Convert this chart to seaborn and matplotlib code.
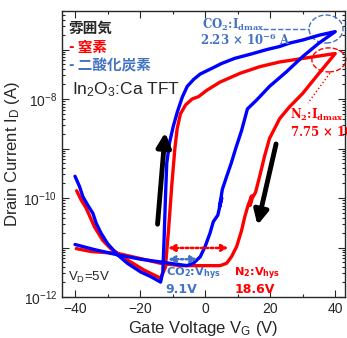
import numpy as np
import pandas as pd
import matplotlib
matplotlib.use('Agg')
import matplotlib.pyplot as plt
import matplotlib.ticker as mticker
from matplotlib.patches import Ellipse
import seaborn as sns

# Transfer curves (forward sweep -40 -> 40 V, then reverse 40 -> -40 V)
co2_vg = [-40.0, -38.6, -37.6, -36.1, -34.5, -33.5, -32.0, -30.0, -26.9, -23.9, -19.8, -16.8, -13.7,
          -13.0, -12.6, -12.2, -11.8, -11.0, -9.8, -8.5, -7.0, -5.5, -3.5, -1.5, 2.5, 5.0, 9.0, 14.7,
          19.0, 22.9, 26.0, 29.9, 35.1, 40.0,
          35.0, 30.0, 24.9, 19.8, 15.8, 13.0, 11.2, 9.5, 8.0, 6.6, 5.3, 4.4, 5.1, 3.9, 2.5, 1.5, 0.0,
          -1.5, -3.6, -5.6, -13.7, -19.8, -26.9, -34.1, -40.0]
co2_id = [2.75e-10, 1.7e-10, 1.07e-10, 7.2e-11, 4.9e-11, 3.1e-11, 1.95e-11, 1.2e-11, 7.1e-12, 4.8e-12,
          3.2e-12, 2.6e-12, 2.0e-12,
          3.2e-12, 1.6e-11, 1.0e-10, 5.0e-10, 1.26e-9, 2.8e-9, 5.6e-9, 1.1e-8, 1.8e-8, 2.5e-8, 3.2e-8,
          4.3e-8, 5.2e-8, 6.6e-8, 8.3e-8, 1.0e-7, 1.15e-7, 1.35e-7, 1.55e-7, 1.95e-7, 2.3e-7,
          1.35e-7, 7.2e-8, 3.5e-8, 1.8e-8, 9.5e-9, 6.3e-9, 2.3e-9, 1.05e-9, 5.0e-10, 2.7e-10, 1.5e-10,
          6.6e-11, 1.0e-10, 4.5e-11, 3.3e-11, 1.95e-11, 1.05e-11, 6.5e-12, 4.8e-12, 4.3e-12, 5.1e-12,
          5.8e-12, 7.1e-12, 9.1e-12, 1.15e-11]

n2_vg = [-39.5, -38.1, -36.6, -34.0, -31.5, -29.0, -23.9, -18.8, -13.7,
         -12.2, -11.2, -10.2, -9.3, -8.6, -7.6, -6.0, -4.0, -2.0, 0.5, 4.6, 10.7, 16.8, 22.9, 30.0,
         35.0, 40.0,
         34.1, 30.0, 25.9, 22.9, 19.8, 18.3, 16.8, 15.5, 14.5, 13.8, 14.3, 13.2, 12.2, 11.2, 9.7, 8.1,
         6.6, 4.6, -7.6, -13.7, -20.0, -26.9, -35.1, -39.6]
n2_id = [1.4e-10, 9.1e-11, 6.3e-11, 2.6e-11, 1.4e-11, 9.5e-12, 5.6e-12, 3.5e-12, 2.4e-12,
         4.0e-12, 2.5e-11, 2.0e-10, 1.0e-9, 2.5e-9, 5.0e-9, 7.6e-9, 1.0e-8, 1.12e-8, 1.5e-8, 2.2e-8,
         3.3e-8, 4.5e-8, 5.6e-8, 6.6e-8, 7.4e-8, 8.3e-8,
         2.8e-8, 1.3e-8, 6.9e-9, 4.0e-9, 1.6e-9, 7.1e-10, 2.8e-10, 1.3e-10, 1.0e-10, 7.1e-11, 1.1e-10,
         7.1e-11, 4.2e-11, 2.2e-11, 1.05e-11, 6.5e-12, 4.8e-12, 4.3e-12, 4.3e-12, 4.8e-12, 6.0e-12,
         7.6e-12, 8.3e-12, 9.5e-12]

vhys = {'N2': 18.6, 'CO2': 9.1}
idmax_text = {'N2': '7.75 × 10$^{-7}$ A', 'CO2': '2.23 × 10$^{-6}$ A'}

df = pd.concat([
    pd.DataFrame({'VG': n2_vg, 'ID': n2_id, 'gas': 'N2'}),
    pd.DataFrame({'VG': co2_vg, 'ID': co2_id, 'gas': 'CO2'}),
])

sns.set_style('ticks')
plt.rcParams['font.family'] = ['Liberation Sans', 'Noto Sans CJK JP', 'DejaVu Sans']
plt.rcParams['mathtext.default'] = 'regular'

fig = plt.figure(figsize=(3.47, 3.38), dpi=100)
ax = fig.add_axes([62 / 347, 1 - 297 / 338, 283 / 347, 286 / 338])

sns.lineplot(data=df, x='VG', y='ID', hue='gas', hue_order=['N2', 'CO2'],
             palette={'N2': '#ff0000', 'CO2': '#0000ff'}, sort=False, estimator=None,
             lw=2.4, legend=False, ax=ax)

ax.set_yscale('log')
ax.set_xlim(-44, 43)
ax.set_ylim(1e-12, 6e-7)
ax.set_xticks([-40, -20, 0, 20, 40])
ax.xaxis.set_minor_locator(mticker.MultipleLocator(10))
ax.set_yticks([1e-12, 1e-11, 1e-10, 1e-9, 1e-8, 1e-7])
ax.set_yticklabels(['$10^{-12}$', '', '$10^{-10}$', '', '$10^{-8}$', ''])
ax.yaxis.set_minor_locator(mticker.LogLocator(base=10, subs=np.arange(2, 10), numticks=20))
ax.yaxis.set_minor_formatter(mticker.NullFormatter())
ax.tick_params(which='both', direction='in', top=True, right=True, width=0.8, labelsize=10)
ax.tick_params(which='major', length=5)
ax.tick_params(which='minor', length=2.5)
for s in ax.spines.values():
    s.set_linewidth(1.0)

ax.set_xlabel('Gate Voltage V$_G$ (V)', fontsize=12, labelpad=2)
ax.set_ylabel('Drain Current I$_D$ (A)', fontsize=12, labelpad=1)

# legend-like text
jp = ['Noto Sans CJK JP', 'DejaVu Sans']
ax.text(0.025, 0.94, '雰囲気', transform=ax.transAxes, family=jp, weight='bold', fontsize=10.5, va='center')
ax.text(0.025, 0.874, '- 窒素', transform=ax.transAxes, family=jp, weight='bold', fontsize=10.5,
        va='center', color='#ff0000')
ax.text(0.025, 0.811, '- 二酸化炭素', transform=ax.transAxes, family=jp, weight='bold', fontsize=10.5,
        va='center', color='#4472c4')
ax.text(0.035, 0.724, 'In$_2$O$_3$:Ca TFT', transform=ax.transAxes, fontsize=12.5, va='center')
ax.text(0.021, 0.07, 'V$_D$=5V', transform=ax.transAxes, fontsize=9.5, va='center')

# I_dmax annotations
serif = ['DejaVu Serif']
ax.text(0.495, 0.951, 'CO$_2$:I$_{dmax}$', transform=ax.transAxes, family=serif, weight='bold',
        fontsize=8.5, va='center', color='#4472c4')
ax.text(0.488, 0.897, idmax_text['CO2'], transform=ax.transAxes, family=serif, weight='bold',
        fontsize=8.5, va='center', color='#4472c4')
ax.text(0.806, 0.638, 'N$_2$:I$_{dmax}$', transform=ax.transAxes, family=serif, weight='bold',
        fontsize=8.5, va='center', color='#ff0000', clip_on=False)
ax.text(0.806, 0.578, idmax_text['N2'], transform=ax.transAxes, family=serif, weight='bold',
        fontsize=8.5, va='center', color='#ff0000', clip_on=False)
ax.add_patch(Ellipse((0.933, 0.937), 0.12, 0.098, transform=ax.transAxes, fill=False,
                     ec='#4472c4', ls='--', lw=1, clip_on=False))
ax.add_patch(Ellipse((0.943, 0.829), 0.12, 0.084, transform=ax.transAxes, fill=False,
                     ec='#ff0000', ls='--', lw=1, clip_on=False))
ax.plot([0.71, 0.873], [0.937, 0.937], transform=ax.transAxes, color='#4472c4', ls='--', lw=1)
ax.plot([0.947, 0.869], [0.783, 0.678], transform=ax.transAxes, color='#ff0000', ls=':', lw=1)

# sweep direction arrows
arrow = dict(arrowstyle='-|>,head_width=0.35,head_length=0.7', lw=3.5, color='k', mutation_scale=12)
ax.annotate('', xy=(-12.2, 2.4e-9), xytext=(-14.7, 2.6e-11), arrowprops=arrow)
ax.annotate('', xy=(15.9, 2.5e-11), xytext=(22.0, 1.4e-9), arrowprops=arrow)

# hysteresis width arrows
v_start = -11.4
for gas, y, c in [('N2', 9.8e-12, '#ff0000'), ('CO2', 5.8e-12, '#4472c4')]:
    ax.annotate('', xy=(v_start + vhys[gas], y), xytext=(v_start, y),
                arrowprops=dict(arrowstyle='<|-|>,head_width=0.2,head_length=0.4', lw=1.8,
                                ls=(0, (1, 1)), color=c, mutation_scale=10, shrinkA=0, shrinkB=0))

sans_b = ['DejaVu Sans']
ax.text(0.367, 0.082, 'CO$_2$:V$_{hys}$', transform=ax.transAxes, family=sans_b, weight='bold',
        fontsize=8.2, va='center', color='#4472c4')
ax.text(0.367, 0.026, f"{vhys['CO2']}V", transform=ax.transAxes, family=sans_b, weight='bold',
        fontsize=9, va='center', color='#4472c4')
ax.text(0.608, 0.082, 'N$_2$:V$_{hys}$', transform=ax.transAxes, family=sans_b, weight='bold',
        fontsize=8.2, va='center', color='#ff0000')
ax.text(0.608, 0.026, f"{vhys['N2']}V", transform=ax.transAxes, family=sans_b, weight='bold',
        fontsize=9, va='center', color='#ff0000')

plt.savefig('out.png', dpi=100)
